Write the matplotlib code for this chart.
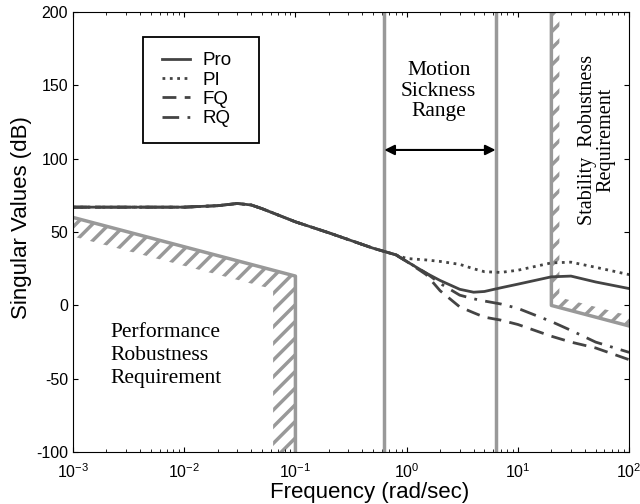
import numpy as np
import matplotlib.pyplot as plt
from matplotlib.patches import Rectangle

plt.rcParams['axes.unicode_minus'] = False
plt.rcParams['hatch.linewidth'] = 2.5
plt.rcParams['font.family'] = ['Liberation Sans', 'DejaVu Sans']
plt.rcParams['mathtext.fontset'] = 'custom'
plt.rcParams['mathtext.rm'] = 'Liberation Sans'

# singular value curves
freq = [0.001, 0.002, 0.005, 0.01, 0.02, 0.03, 0.04, 0.05, 0.1, 0.2, 0.5, 0.8,
        1, 1.5, 2, 3, 4, 5, 7, 10, 20, 30, 50, 100]
pro = [67, 67, 67, 67, 68, 69.5, 68.5, 66, 57, 49.5, 39, 34.5,
       30, 22, 17, 11, 9, 9.5, 12, 14.5, 19.5, 20, 16, 11.5]
pi = [67, 67, 67, 67, 68, 69.5, 68.5, 66, 57, 49.5, 39, 34.5,
      32, 31, 30, 28, 25, 23, 22.5, 24, 29, 29.5, 26, 21]
fq = [67, 67, 67, 67, 68, 69.5, 68.5, 66, 57, 49.5, 39, 34.5,
      30, 21, 10, -1, -5, -8, -10, -13, -21, -25, -29, -37]
rq = [67, 67, 67, 67, 68, 69.5, 68.5, 66, 57, 49.5, 39, 34.5,
      30, 22, 15, 7, 4.5, 3, 1, -2, -11, -17, -25, -32]

# requirement boundaries
perf_x = [0.001, 0.1, 0.1]
perf_y = [60, 20, -100]
perf_hatch_x = [0.001, 0.1, 0.1, 0.063, 0.063, 0.001]
perf_hatch_y = [60, 20, -100, -100, 11, 47]
stab_x = [20, 20, 100]
stab_y = [200, 0, -14]
stab_hatch_x = [20, 23.6, 23.6, 100, 100, 20]
stab_hatch_y = [200, 200, 5.5, -7, -14, 0]
motion_band = [0.63, 6.3]

gray = '#999999'
dark = '#444444'

fig, ax = plt.subplots(figsize=(6.4, 5.04), dpi=100)
fig.subplots_adjust(left=0.114, right=0.983, top=0.976, bottom=0.103)

ax.fill(perf_hatch_x, perf_hatch_y, facecolor='none', edgecolor=gray,
        linewidth=0, hatch='//')
ax.fill(stab_hatch_x, stab_hatch_y, facecolor='none', edgecolor=gray,
        linewidth=0, hatch='//')
ax.plot(perf_x, perf_y, color=gray, lw=2.5)
ax.plot(stab_x, stab_y, color=gray, lw=2.5)
for xv in motion_band:
    ax.axvline(xv, color=gray, lw=2.5)

ax.plot(freq, pro, color=dark, lw=2, ls='-', label='Pro')
ax.plot(freq, pi, color=dark, lw=2, ls=':', label='PI')
ax.plot(freq, fq, color=dark, lw=2, ls=(0, (5, 3)), label='FQ')
ax.plot(freq, rq, color=dark, lw=2, ls=(0, (6, 3, 1, 3)), label='RQ')

ax.annotate('', xy=(motion_band[0], 106), xytext=(motion_band[1], 106),
            arrowprops=dict(arrowstyle='<|-|>', color='black', lw=1.5,
                            mutation_scale=15, shrinkA=0, shrinkB=0))

serif = ['Liberation Serif', 'DejaVu Serif']
ax.text(1.94, 146, 'Motion\nSickness\nRange', ha='center', va='center',
        fontsize=15.5, family=serif, linespacing=1.12)
ax.text(51.5, 113, 'Stability  Robustness\nRequirement', ha='center',
        va='center', rotation=90, fontsize=14.5, family=serif,
        linespacing=0.95)
ax.text(0.00215, -34, 'Performance\nRobustness\nRequirement', ha='left',
        va='center', fontsize=15.5, family=serif, linespacing=1.28)

ax.set_xscale('log')
ax.set_xlim(1e-3, 1e2)
ax.set_ylim(-100, 200)
ax.set_yticks([-100, -50, 0, 50, 100, 150, 200])
ax.tick_params(which='both', direction='in', top=True, right=True,
               labelsize=11.5)
ax.tick_params(axis='x', which='major', pad=7)
ax.set_xlabel('Frequency (rad/sec)', fontsize=16)
ax.set_ylabel('Singular Values (dB)', fontsize=16)
ax.xaxis.set_label_coords(0.534, -0.068)
ax.yaxis.set_label_coords(-0.074, 0.534)

# legend box drawn by hand, MATLAB style
ax.add_patch(Rectangle((0.126, 0.702), 0.2085, 0.241, transform=ax.transAxes,
                       facecolor='white', edgecolor='black', lw=1.3,
                       zorder=4))
leg = ax.legend(loc='upper left', bbox_to_anchor=(0.160, 0.909),
                frameon=False, borderpad=0, borderaxespad=0,
                fontsize=13.5, handlelength=1.5, labelspacing=0.12,
                handletextpad=0.65)
leg.set_zorder(5)

fig.savefig('out.png', dpi=100)
